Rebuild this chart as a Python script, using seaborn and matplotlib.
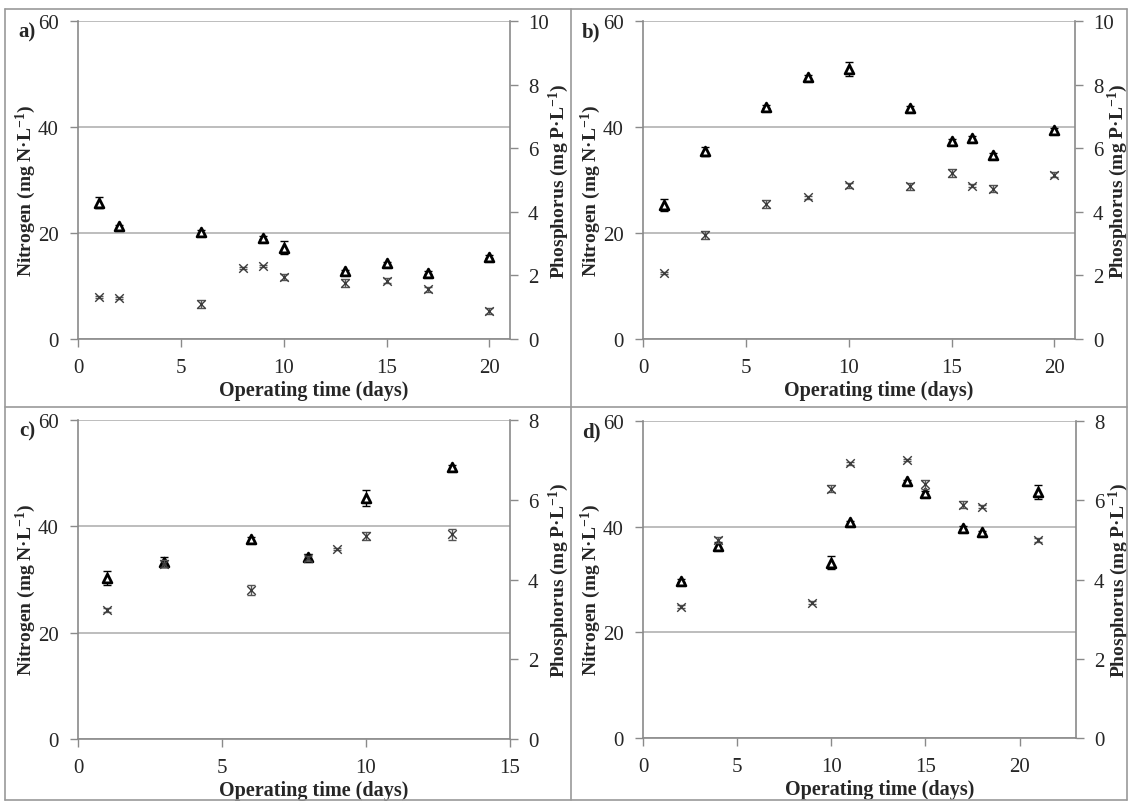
import matplotlib
matplotlib.use("Agg")
import matplotlib.pyplot as plt
from matplotlib.lines import Line2D
import seaborn as sns
import pandas as pd

sns.set_style("white")
plt.rcParams["font.family"] = ["Liberation Serif", "DejaVu Serif"]
plt.rcParams["mathtext.fontset"] = "custom"
plt.rcParams["mathtext.rm"] = "Liberation Serif:bold"
plt.rcParams["mathtext.bf"] = "Liberation Serif:bold"
plt.rcParams["mathtext.default"] = "bf"

# ---- panel a ----
a_n_days = [1, 2, 6, 9, 10, 13, 15, 17, 20]
a_n_vals = [25.7, 21.3, 20.2, 19.1, 17.2, 12.8, 14.3, 12.5, 15.5]
a_n_err = [1.0, 0.3, 0.3, 0.3, 1.2, 0.3, 0.3, 0.3, 0.3]
a_p_days = [1, 2, 6, 8, 9, 10, 13, 15, 17, 20]
a_p_vals = [1.32, 1.28, 1.10, 2.23, 2.30, 1.95, 1.77, 1.83, 1.57, 0.88]
a_p_err = [0.03, 0.03, 0.12, 0.03, 0.03, 0.10, 0.13, 0.08, 0.08, 0.10]

# ---- panel b ----
b_n_days = [1, 3, 6, 8, 10, 13, 15, 16, 17, 20]
b_n_vals = [25.3, 35.4, 43.8, 49.5, 51.0, 43.6, 37.3, 37.9, 34.7, 39.4]
b_n_err = [1.2, 0.9, 0.3, 0.4, 1.3, 0.3, 0.4, 0.4, 0.4, 0.4]
b_p_days = [1, 3, 6, 8, 10, 13, 15, 16, 17, 20]
b_p_vals = [2.07, 3.27, 4.25, 4.45, 4.83, 4.80, 5.23, 4.82, 4.73, 5.17]
b_p_err = [0.03, 0.12, 0.12, 0.05, 0.08, 0.10, 0.12, 0.04, 0.10, 0.08]

# ---- panel c ----
c_n_days = [1, 3, 6, 8, 10, 13]
c_n_vals = [30.3, 33.3, 37.6, 34.2, 45.3, 51.1]
c_n_err = [1.3, 0.9, 0.3, 0.6, 1.5, 0.4]
c_p_days = [1, 3, 6, 8, 9, 10, 13]
c_p_vals = [3.23, 4.40, 3.73, 4.53, 4.76, 5.09, 5.13]
c_p_err = [0.05, 0.08, 0.13, 0.07, 0.03, 0.09, 0.13]

# ---- panel d ----
d_n_days = [2, 4, 10, 11, 14, 15, 17, 18, 21]
d_n_vals = [29.8, 36.4, 33.2, 40.8, 48.6, 46.3, 39.8, 38.9, 46.5]
d_n_err = [0.3, 0.7, 1.3, 0.3, 0.3, 0.5, 0.3, 0.3, 1.3]
d_p_days = [2, 4, 9, 10, 11, 14, 15, 17, 18, 21]
d_p_vals = [3.31, 4.99, 3.41, 6.29, 6.93, 7.01, 6.40, 5.89, 5.84, 4.99]
d_p_err = [0.04, 0.08, 0.04, 0.09, 0.03, 0.03, 0.11, 0.09, 0.03, 0.05]

panel_labels = ["a)", "b)", "c)", "d)"]
x_maxes = [21, 21, 15, 23]
x_ticks = [[0, 5, 10, 15, 20], [0, 5, 10, 15, 20], [0, 5, 10, 15], [0, 5, 10, 15, 20]]
p_maxes = [10, 10, 8, 8]
p_ticks = [[0, 2, 4, 6, 8, 10], [0, 2, 4, 6, 8, 10], [0, 2, 4, 6, 8], [0, 2, 4, 6, 8]]
n_ticks = [0, 20, 40, 60]

panels = [
    (a_n_days, a_n_vals, a_n_err, a_p_days, a_p_vals, a_p_err),
    (b_n_days, b_n_vals, b_n_err, b_p_days, b_p_vals, b_p_err),
    (c_n_days, c_n_vals, c_n_err, c_p_days, c_p_vals, c_p_err),
    (d_n_days, d_n_vals, d_n_err, d_p_days, d_p_vals, d_p_err),
]

W, H = 1130, 803
fig = plt.figure(figsize=(W / 100, H / 100), dpi=100)

# axes boxes in pixels: left, top, right, bottom
boxes = [(78, 22, 510, 340), (643, 22, 1075, 340),
         (78, 421, 510, 740), (643, 422, 1076, 739)]
# right-hand label offsets (the right column sits against the outer frame)
p_label_x = [1.086, 1.071, 1.086, 1.071]

AXIS_GREY = "#8a8a8a"
GRID_GREY = "#b8b8b8"
TICK_FS = 15
LABEL_FS = 14

n_label = "Nitrogen (mg N\u00b7L$^{-1}$)"
p_label = "Phosphorus (mg P\u00b7L$^{-1}$)"

for i, (nd, nv, ne, pd_, pv, pe) in enumerate(panels):
    l, t, r, b = boxes[i]
    ax = fig.add_axes([l / W, 1 - b / H, (r - l) / W, (b - t) / H])
    axp = ax.twinx()

    df_n = pd.DataFrame({"day": nd, "N": nv})
    df_p = pd.DataFrame({"day": pd_, "P": pv})

    ax.errorbar(nd, nv, yerr=ne, fmt="none", ecolor="black",
                elinewidth=1.0, capsize=3, capthick=1.0, zorder=3)
    sns.scatterplot(data=df_n, x="day", y="N", ax=ax, marker="^", s=40,
                    color="white", edgecolor="black", linewidth=2.0, zorder=4)

    axp.errorbar(pd_, pv, yerr=pe, fmt="none", ecolor="#555555",
                 elinewidth=1.0, capsize=3, capthick=1.0, zorder=3)
    sns.scatterplot(data=df_p, x="day", y="P", ax=axp, marker="x", s=38,
                    color="#3c3c3c", linewidth=1.0, zorder=4)

    ax.set_xlim(0, x_maxes[i])
    ax.set_ylim(0, 60)
    axp.set_ylim(0, p_maxes[i])
    ax.set_xticks(x_ticks[i])
    ax.set_yticks(n_ticks)
    axp.set_yticks(p_ticks[i])

    ax.grid(False)
    axp.grid(False)
    ax.yaxis.grid(True, color=GRID_GREY, linewidth=1.3)
    ax.set_axisbelow(True)

    for s in ["top", "right"]:
        ax.spines[s].set_visible(False)
    for s in ["top", "left", "bottom"]:
        axp.spines[s].set_visible(False)
    for s in ["left", "bottom"]:
        ax.spines[s].set_color(AXIS_GREY)
        ax.spines[s].set_linewidth(1.2)
    axp.spines["right"].set_color(AXIS_GREY)
    axp.spines["right"].set_linewidth(1.2)

    ax.tick_params(axis="both", direction="out", length=6, width=1.0,
                   color=AXIS_GREY, labelsize=TICK_FS, pad=8,
                   left=True, bottom=True)
    axp.tick_params(axis="y", direction="out", length=6, width=1.0,
                    color=AXIS_GREY, labelsize=TICK_FS, pad=7, right=True)

    ax.set_xlabel("Operating time (days)", fontsize=LABEL_FS + 0.5, fontweight="bold")
    ax.set_ylabel(n_label, fontsize=LABEL_FS, fontweight="bold")
    axp.set_ylabel(p_label, fontsize=LABEL_FS, fontweight="bold")
    ax.xaxis.set_label_coords(0.546, -0.128)
    ax.yaxis.set_label_coords(-0.093, 0.47)
    axp.yaxis.set_label_coords(p_label_x[i], 0.5)

    ax.text(-0.098, 1.0, panel_labels[i], transform=ax.transAxes,
            fontsize=LABEL_FS + 1, fontweight="bold", ha="right", va="top")

# panel frames
FRAME = "#9a9a9a"
xs = [5 / W, 571 / W, 1127 / W]
ys = [1 - 10 / H, 1 - 408 / H, 1 - 801 / H]
for x in xs:
    fig.add_artist(Line2D([x, x], [ys[2], ys[0]], color=FRAME, lw=1.2))
for y in ys:
    fig.add_artist(Line2D([xs[0], xs[2]], [y, y], color=FRAME, lw=1.2))

fig.savefig("out.png", dpi=100, facecolor="white")
